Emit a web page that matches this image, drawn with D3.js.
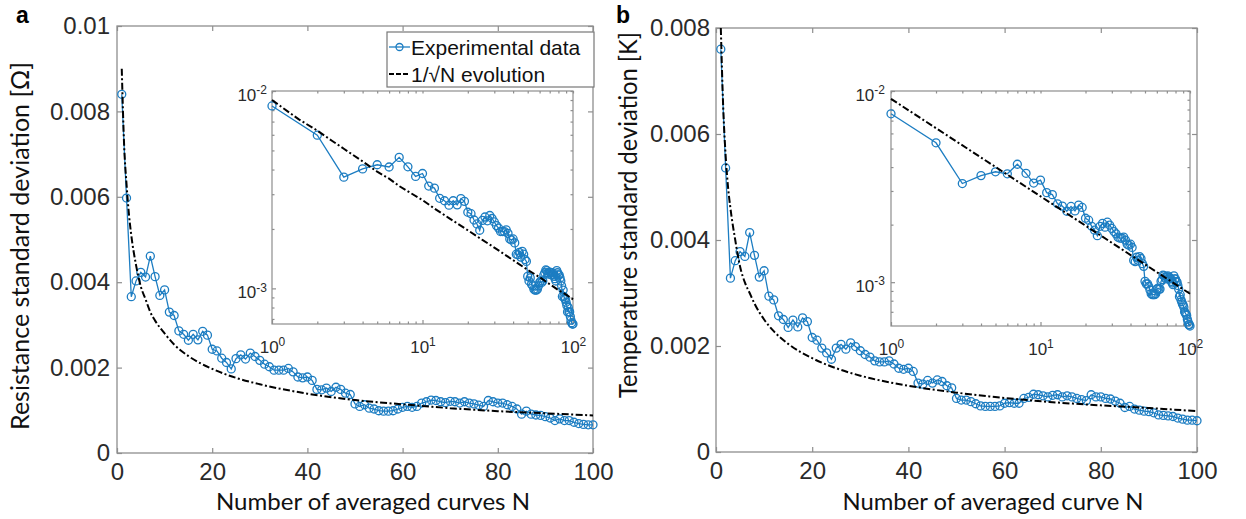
<!DOCTYPE html>
<html>
<head>
<meta charset="utf-8">
<script src="https://cdn.jsdelivr.net/npm/d3@7"></script>
<style>
body { margin: 0; background: #fff; }
svg { display: block; }
</style>
</head>
<body>
<svg id="fig" width="1246" height="519"></svg>
<script>
"use strict";

// averaging count N = 1..100
const curveCount = d3.range(1, 101);

// panel a, resistance standard deviation [Ohm]
const resistanceStd = [
    0.00840, 0.00597, 0.00366, 0.00403, 0.00423, 0.00412, 0.00461, 0.00413, 0.00369, 0.00382,
    0.00330, 0.00322, 0.00286, 0.00278, 0.00264, 0.00278, 0.00265, 0.00285, 0.00276, 0.00243,
    0.00239, 0.00222, 0.00212, 0.00197, 0.00221, 0.00230, 0.00220, 0.00234, 0.00226, 0.00217,
    0.00208, 0.00202, 0.00194, 0.00194, 0.00194, 0.00198, 0.00190, 0.00178, 0.00176, 0.00178,
    0.00170, 0.00149, 0.00148, 0.00152, 0.00144, 0.00154, 0.00149, 0.00140, 0.00137, 0.00115,
    0.00109, 0.00113, 0.00105, 0.00103, 0.00099, 0.00098, 0.00098, 0.00099, 0.00103, 0.00107,
    0.00109, 0.00107, 0.00109, 0.00117, 0.00120, 0.00124, 0.00123, 0.00120, 0.00118, 0.00121,
    0.00120, 0.00117, 0.00120, 0.00117, 0.00115, 0.00112, 0.00109, 0.00123, 0.00120, 0.00117,
    0.00117, 0.00113, 0.00109, 0.00103, 0.00091, 0.00098, 0.00091, 0.00089, 0.00088, 0.00085,
    0.00082, 0.00076, 0.00080, 0.00076, 0.00076, 0.00072, 0.00069, 0.00067, 0.00066, 0.00066
];

// panel b, temperature standard deviation [K]
const temperatureStd = [
    0.00760, 0.00536, 0.00328, 0.00361, 0.00378, 0.00369, 0.00414, 0.00371, 0.00330, 0.00342,
    0.00294, 0.00287, 0.00257, 0.00250, 0.00235, 0.00249, 0.00236, 0.00253, 0.00246, 0.00216,
    0.00211, 0.00196, 0.00187, 0.00175, 0.00196, 0.00203, 0.00194, 0.00206, 0.00199, 0.00191,
    0.00184, 0.00179, 0.00172, 0.00170, 0.00170, 0.00172, 0.00166, 0.00158, 0.00156, 0.00158,
    0.00152, 0.00130, 0.00128, 0.00135, 0.00130, 0.00136, 0.00133, 0.00125, 0.00121, 0.00101,
    0.00098, 0.00098, 0.00095, 0.00091, 0.00087, 0.00086, 0.00086, 0.00086, 0.00087, 0.00092,
    0.00093, 0.00092, 0.00092, 0.00101, 0.00103, 0.00109, 0.00108, 0.00106, 0.00104, 0.00107,
    0.00108, 0.00104, 0.00106, 0.00104, 0.00101, 0.00099, 0.00097, 0.00108, 0.00104, 0.00104,
    0.00101, 0.00100, 0.00096, 0.00092, 0.00084, 0.00086, 0.00081, 0.00079, 0.00077, 0.00076,
    0.00074, 0.00070, 0.00069, 0.00068, 0.00067, 0.00064, 0.00062, 0.00060, 0.00060, 0.00059
];

// dash-dot 1/sqrt(N) reference
const fitN = [1, 1.5, 2, 2.5, 3, 4, 5, 6, 7, 8, 10, 12, 15, 20, 25, 30, 40, 50, 60, 70, 80, 90, 100];
const fitResistance = [0.0090, 0.0072, 0.0063, 0.0056, 0.0051, 0.0044, 0.0039, 0.0036, 0.0033, 0.0031,
    0.0028, 0.00254, 0.00227, 0.00197, 0.00176, 0.00161, 0.00139, 0.00124, 0.00114, 0.00105, 0.00098, 0.00093, 0.00088];
const fitTemperature = [0.0080, 0.0065, 0.0056, 0.0050, 0.0046, 0.0040, 0.0035, 0.0032, 0.0030, 0.0028,
    0.0025, 0.00228, 0.00204, 0.00177, 0.00158, 0.00144, 0.00125, 0.00112, 0.00102, 0.00094, 0.00088, 0.00083, 0.00077];
// the inset of panel b uses a slightly higher line
const insetFitN = [1, 100];
const insetFitTemperature = [0.0091, 0.00087];

const xTicks = [0, 20, 40, 60, 80, 100];
const yTicksA = [0, 0.002, 0.004, 0.006, 0.008, 0.01];
const yTicksB = [0, 0.002, 0.004, 0.006, 0.008];
const logXMajor = [1, 10, 100];
const logXMinor = [2, 3, 4, 5, 6, 7, 8, 9, 20, 30, 40, 50, 60, 70, 80, 90];
const logYMajor = [0.001, 0.01];
const logYMinor = [0.0007, 0.0008, 0.0009, 0.002, 0.003, 0.004, 0.005, 0.006, 0.007, 0.008, 0.009];

const legendLabels = ["Experimental data", "1/\u221AN evolution"];

const BLUE = "#1c7dc2";
const AXIS = "#8e8e8e";
const TXT = "#2a2a2a";
const TICKFONT = "'Liberation Sans', Arial, sans-serif";
const LABELFONT = "Lato, 'Open Sans', sans-serif";
const DASH = "7,2.5,2,2.5";

const svg = d3.select("#fig");

function styleAxis(sel, size) {
    sel.select(".domain").remove();
    sel.selectAll(".tick line").attr("stroke", AXIS).attr("stroke-width", 1.2);
    sel.selectAll(".tick text")
        .attr("fill", TXT)
        .style("font-family", TICKFONT)
        .style("font-size", size + "px");
}

// replace tick text with 10^k
function powerLabels(sel, supDy) {
    sel.selectAll(".tick text").each(function(d) {
        const t = d3.select(this);
        const e = Math.round(Math.log10(d));
        t.text(null);
        t.append("tspan").text("10");
        t.append("tspan").attr("dy", supDy).style("font-size", "12px").text(e);
    });
}

function drawPanel(p) {
    const g = svg.append("g");
    const x = d3.scaleLinear().domain([0, 100]).range([p.left, p.right]);
    const y = d3.scaleLinear().domain([0, p.yMax]).range([p.bottom, p.top]);
    const fmt = d => d === 0 ? "0" : String(+d.toFixed(3));

    g.append("rect")
        .attr("x", p.left).attr("y", p.top)
        .attr("width", p.right - p.left).attr("height", p.bottom - p.top)
        .attr("fill", "none").attr("stroke", AXIS).attr("stroke-width", 1.3);

    g.append("g").attr("transform", `translate(0,${p.bottom})`)
        .call(d3.axisBottom(x).tickValues(xTicks).tickSize(-5).tickPadding(10).tickFormat(d3.format("d")))
        .call(styleAxis, 24);
    g.append("g").attr("transform", `translate(0,${p.top})`)
        .call(d3.axisTop(x).tickValues(xTicks).tickSize(-5).tickFormat(""))
        .call(styleAxis, 24);
    g.append("g").attr("transform", `translate(${p.left},0)`)
        .call(d3.axisLeft(y).tickValues(p.yTicks).tickSize(-5).tickPadding(p.yPad).tickFormat(fmt))
        .call(styleAxis, 24);
    g.append("g").attr("transform", `translate(${p.right},0)`)
        .call(d3.axisRight(y).tickValues(p.yTicks).tickSize(-5).tickFormat(""))
        .call(styleAxis, 24);

    const pts = curveCount.map((n, i) => ({n: n, v: p.values[i]}));
    const fit = fitN.map((n, i) => ({n: n, v: p.fit[i]}));

    g.append("path").datum(pts)
        .attr("fill", "none").attr("stroke", BLUE).attr("stroke-width", 1.3)
        .attr("d", d3.line().x(d => x(d.n)).y(d => y(d.v)));
    g.append("g").selectAll("circle").data(pts).enter().append("circle")
        .attr("cx", d => x(d.n)).attr("cy", d => y(d.v)).attr("r", 4)
        .attr("fill", "none").attr("stroke", BLUE).attr("stroke-width", 1.3);
    g.append("path").datum(fit)
        .attr("fill", "none").attr("stroke", "#000").attr("stroke-width", 2)
        .attr("stroke-dasharray", DASH)
        .attr("d", d3.line().curve(d3.curveMonotoneX).x(d => x(d.n)).y(d => y(d.v)));

    // log-log inset
    const ins = p.inset;
    const lx = d3.scaleLog().domain([1, 100]).range([ins.left, ins.right]);
    const ly = d3.scaleLog().domain([ins.yMin, 0.01]).range([ins.bottom, ins.top]);
    const ig = g.append("g");
    ig.append("rect")
        .attr("x", ins.left).attr("y", ins.top)
        .attr("width", ins.right - ins.left).attr("height", ins.bottom - ins.top)
        .attr("fill", "#fff").attr("stroke", AXIS).attr("stroke-width", 1.2);

    ig.append("g").attr("transform", `translate(0,${ins.bottom})`)
        .call(d3.axisBottom(lx).tickValues(logXMajor).tickSize(-4).tickPadding(17))
        .call(styleAxis, 17).call(powerLabels, "-0.55em");
    ig.append("g").attr("transform", `translate(0,${ins.bottom})`)
        .call(d3.axisBottom(lx).tickValues(logXMinor).tickSize(-2.5).tickFormat(""))
        .call(styleAxis, 17);
    ig.append("g").attr("transform", `translate(0,${ins.top})`)
        .call(d3.axisTop(lx).tickValues(logXMajor.concat(logXMinor)).tickSize(-2.5).tickFormat(""))
        .call(styleAxis, 17);
    ig.append("g").attr("transform", `translate(${ins.left},0)`)
        .call(d3.axisLeft(ly).tickValues(logYMajor).tickSize(-4).tickPadding(ins.yPad))
        .call(styleAxis, 17).call(powerLabels, "-0.55em");
    ig.selectAll(".tick text").filter(function() { return d3.select(this).attr("dy") === "0.32em"; })
        .attr("dy", "0.55em");
    ig.append("g").attr("transform", `translate(${ins.left},0)`)
        .call(d3.axisLeft(ly).tickValues(logYMinor).tickSize(-2.5).tickFormat(""))
        .call(styleAxis, 17);
    ig.append("g").attr("transform", `translate(${ins.right},0)`)
        .call(d3.axisRight(ly).tickValues(logYMajor.concat(logYMinor)).tickSize(-2.5).tickFormat(""))
        .call(styleAxis, 17);

    ig.append("path").datum(pts)
        .attr("fill", "none").attr("stroke", BLUE).attr("stroke-width", 1.3)
        .attr("d", d3.line().x(d => lx(d.n)).y(d => ly(d.v)));
    ig.append("g").selectAll("circle").data(pts).enter().append("circle")
        .attr("cx", d => lx(d.n)).attr("cy", d => ly(d.v)).attr("r", 4)
        .attr("fill", "none").attr("stroke", BLUE).attr("stroke-width", 1.3);
    const insFit = ins.fitN.map((n, i) => ({n: n, v: ins.fit[i]}));
    ig.append("path").datum(insFit)
        .attr("fill", "none").attr("stroke", "#000").attr("stroke-width", 2)
        .attr("stroke-dasharray", DASH)
        .attr("d", d3.line().x(d => lx(d.n)).y(d => ly(d.v)));

    // labels
    g.append("text")
        .attr("x", p.xLabel.x).attr("y", 510)
        .attr("text-anchor", "middle")
        .attr("textLength", p.xLabel.len).attr("lengthAdjust", "spacingAndGlyphs")
        .style("font-family", LABELFONT).style("font-size", "24px").attr("fill", "#111")
        .text(p.xLabel.text);
    g.append("text")
        .attr("transform", `translate(${p.yLabel.x},${p.yLabel.y}) rotate(-90)`)
        .attr("text-anchor", "middle")
        .attr("textLength", p.yLabel.len).attr("lengthAdjust", "spacingAndGlyphs")
        .style("font-family", LABELFONT).style("font-size", "25px").attr("fill", "#111")
        .text(p.yLabel.text);
    g.append("text")
        .attr("x", p.tag.x).attr("y", 23)
        .style("font-family", TICKFONT).style("font-size", "23px").style("font-weight", "bold")
        .attr("fill", "#000")
        .text(p.tag.text);
    return g;
}

const gA = drawPanel({
    left: 117, right: 593, top: 26, bottom: 453, yMax: 0.01, yTicks: yTicksA, yPad: 7,
    values: resistanceStd, fit: fitResistance,
    inset: {left: 272, right: 573, top: 91, bottom: 324, yMin: 0.00066, yPad: 5,
            fitN: fitN, fit: fitResistance},
    xLabel: {text: "Number of averaged curves N", x: 373, len: 314},
    yLabel: {text: "Resistance standard deviation [\u03A9]", x: 29, y: 246, len: 368},
    tag: {text: "a", x: 16}
});

drawPanel({
    left: 716, right: 1197, top: 28, bottom: 452, yMax: 0.008, yTicks: yTicksB, yPad: 6,
    values: temperatureStd, fit: fitTemperature,
    inset: {left: 891, right: 1190, top: 91, bottom: 326, yMin: 0.00059, yPad: 6,
            fitN: insetFitN, fit: insetFitTemperature},
    xLabel: {text: "Number of averaged curve N", x: 993, len: 301},
    yLabel: {text: "Temperature standard deviation [K]", x: 637, y: 215, len: 366},
    tag: {text: "b", x: 616}
});

// legend, panel a only
const leg = gA.append("g");
leg.append("rect")
    .attr("x", 387).attr("y", 32).attr("width", 207).attr("height", 55)
    .attr("fill", "#fff").attr("stroke", "#777").attr("stroke-width", 1.2);
const rows = leg.selectAll("g.row").data(legendLabels).enter().append("g")
    .attr("class", "row")
    .attr("transform", (d, i) => `translate(0,${47 + i * 27})`);
rows.filter((d, i) => i === 0).call(r => {
    r.append("line").attr("x1", 389).attr("x2", 410).attr("y1", 0).attr("y2", 0)
        .attr("stroke", BLUE).attr("stroke-width", 1.3);
    r.append("circle").attr("cx", 399.5).attr("cy", 0).attr("r", 3.5)
        .attr("fill", "none").attr("stroke", BLUE).attr("stroke-width", 1.3);
});
rows.filter((d, i) => i === 1).append("line")
    .attr("x1", 389).attr("x2", 409).attr("y1", 0).attr("y2", 0)
    .attr("stroke", "#000").attr("stroke-width", 2).attr("stroke-dasharray", "5,2");
rows.append("text")
    .attr("x", 411).attr("y", 0).attr("dy", "0.36em")
    .style("font-family", TICKFONT).style("font-size", "21px").attr("fill", "#111")
    .text(d => d);
</script>
</body>
</html>
